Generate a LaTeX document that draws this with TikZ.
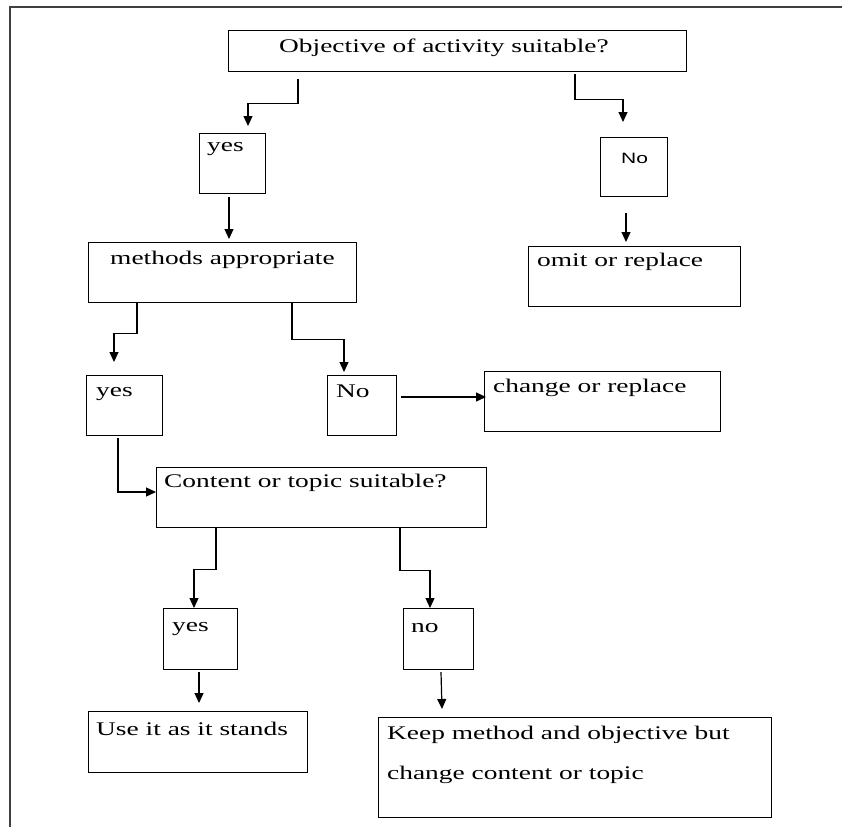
\documentclass[tikz,border=0pt]{standalone}
\usepackage{fontspec}
\setmainfont{Liberation Serif}[FakeStretch=1.42]
\newfontfamily\nofont{Liberation Sans}[FakeStretch=1.4]
\usetikzlibrary{arrows.meta}

\tikzset{
  box/.style={draw, line width=1.2pt, anchor=north west, inner sep=0pt},
  txt/.style={anchor=base west, inner sep=0pt, align=left, font=\fontsize{19.3}{40}\selectfont},
  arr/.style={line width=1.2pt, -{Triangle[length=10pt,width=9pt]}}
}

\begin{document}
\begin{tikzpicture}[x=1pt, y=-1pt]
        \useasboundingbox (0,0) rectangle (842,827);

        % Draw frame
        \draw[line width=1.4pt, black!75] (10,827) -- (10,7) -- (842,7);

        % Draw boxes
        \node[box, minimum width=458pt, minimum height=41pt] (obj) at (228,30) {};
        \node[box, minimum width=66pt, minimum height=60pt] (yes1) at (199,133) {};
        \node[box, minimum width=67pt, minimum height=59pt] (no1) at (600,137) {};
        \node[box, minimum width=268pt, minimum height=60pt] (meth) at (88,242) {};
        \node[box, minimum width=212pt, minimum height=60pt] (omit) at (528,246) {};
        \node[box, minimum width=76pt, minimum height=60pt] (yes2) at (86,375) {};
        \node[box, minimum width=69pt, minimum height=60pt] (no2) at (327,375) {};
        \node[box, minimum width=236pt, minimum height=60pt] (change) at (484,371) {};
        \node[box, minimum width=330pt, minimum height=60pt] (content) at (156,467) {};
        \node[box, minimum width=74pt, minimum height=61pt] (yes3) at (163,608) {};
        \node[box, minimum width=70pt, minimum height=61pt] (no3) at (403,608) {};
        \node[box, minimum width=219pt, minimum height=61pt] (use) at (88,711) {};
        \node[box, minimum width=393pt, minimum height=100pt] (keep) at (378,717) {};

        % Box texts
        \node[txt] (tobj) at (279,52) {Objective of activity suitable?};
        \node[txt] (tyes1) at (207,151) {yes};
        \node[txt, font=\nofont\fontsize{15}{16}\selectfont] (tno1) at (621,163) {No};
        \node[txt] (tmeth) at (110,264) {methods appropriate};
        \node[txt] (tomit) at (537,266) {omit or replace};
        \node[txt] (tyes2) at (96,396) {yes};
        \node[txt] (tno2) at (336,397) {No};
        \node[txt] (tchange) at (493,392) {change or replace};
        \node[txt] (tcontent) at (164,487) {Content or topic suitable?};
        \node[txt] (tyes3) at (172,631) {yes};
        \node[txt] (tno3) at (411,632) {no};
        \node[txt] (tuse) at (96,735) {Use it as it stands};
        \node[txt] (tkeep) at (387,779) {Keep method and objective but\\change content or topic};

        % Arrows from first question
        \draw[arr] ([shift={(70,7)}]obj.south west) -- ++(0,24) -| ([shift={(49,-7)}]yes1.north west);
        \draw[arr] ([shift={(347,2)}]obj.south west) -- ++(0,25) -| ([shift={(23,-15)}]no1.north west);
        \draw[arr] ([shift={(30,3)}]yes1.south west) -- ([shift={(141,-3)}]meth.north west);
        \draw[arr] ([shift={(26,16)}]no1.south west) -- ([shift={(98,-4)}]omit.north west);

        % Arrows from methods
        \draw[arr] ([xshift=49pt]meth.south west) -- ++(0,30) -| ([shift={(28,-13)}]yes2.north west);
        \draw[arr] ([xshift=204pt]meth.south west) -- ++(0,36) -| ([shift={(17,-3)}]no2.north west);
        \draw[arr] ([shift={(4,22)}]no2.north east) -- ([shift={(2,26)}]change.north west);
        \draw[arr] ([shift={(32,2)}]yes2.south west) |- ([shift={(0,25)}]content.north west);

        % Arrows from content
        \draw[arr] ([xshift=60pt]content.south west) -- ++(0,41) -| ([xshift=31pt]yes3.north west);
        \draw[arr] ([xshift=244pt]content.south west) -- ++(0,42) -| ([xshift=27pt]no3.north west);
        \draw[arr] ([shift={(36,2)}]yes3.south west) -- ([shift={(111,-8)}]use.north west);
        \draw[arr] ([shift={(38,2)}]no3.south west) -- ([shift={(64,-8)}]keep.north west);
    \end{tikzpicture}
\end{document}
